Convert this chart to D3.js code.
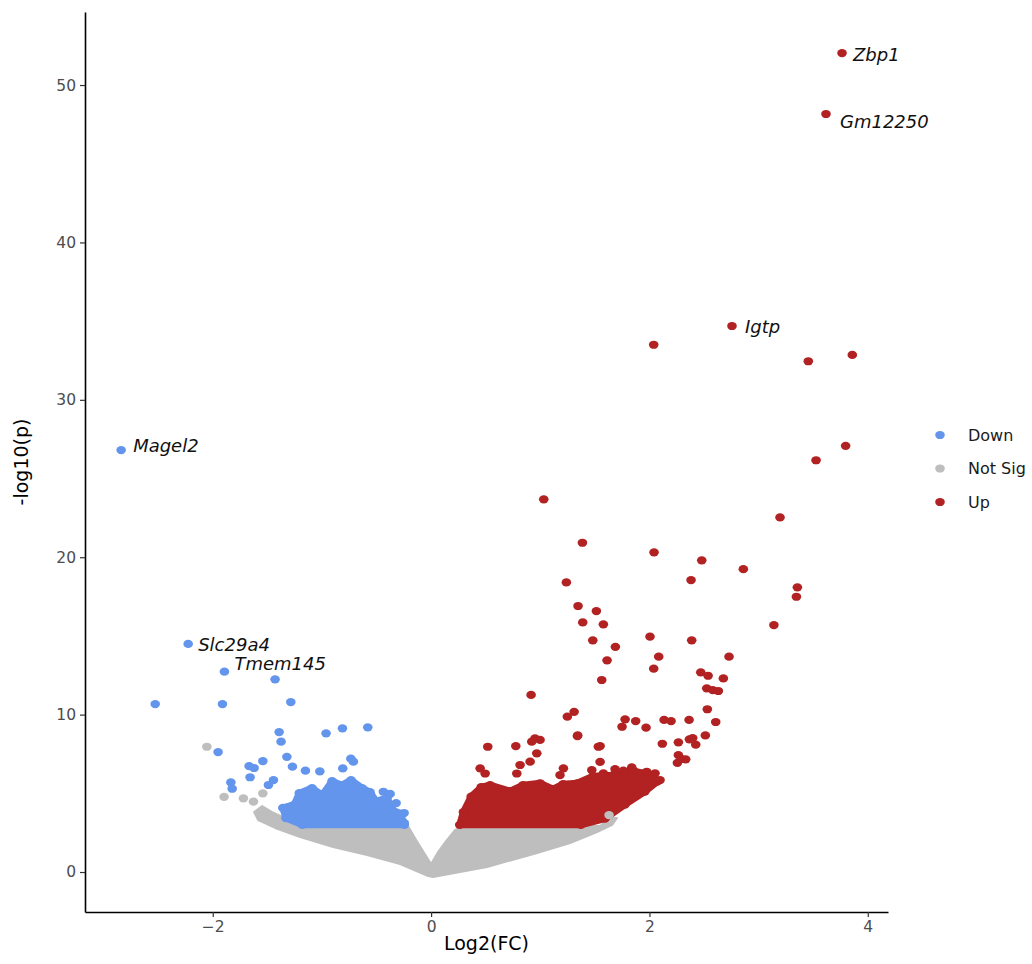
<!DOCTYPE html>
<html>
<head>
<meta charset="utf-8">
<style>
  body { margin: 0; background: #fff; }
  svg text { font-family: "DejaVu Sans", sans-serif; }
</style>
</head>
<body>
<svg id="chart" width="1032" height="964"></svg>
<script src="https://cdnjs.cloudflare.com/ajax/libs/d3/7.8.5/d3.min.js"></script>
<script>
// log2 fold change / -log10(p)
var upPoints = [
  [3.764,52.03],[3.617,48.16],[2.756,34.69],[2.039,33.50],[3.455,32.45],[3.858,32.85],
  [3.797,27.08],[3.526,26.16],[1.032,23.68],[3.196,22.53],[1.386,20.92],[2.042,20.31],
  [2.479,19.80],[2.860,19.24],[1.239,18.40],[2.381,18.55],[3.355,18.09],[3.346,17.49],
  [1.346,16.90],[1.514,16.58],[3.140,15.69],[1.389,15.86],[1.578,15.74],[1.481,14.72],
  [1.688,14.31],[2.005,14.95],[2.387,14.72],[2.729,13.68],[2.085,13.68],[1.612,13.45],
  [2.039,12.92],[2.470,12.69],[2.537,12.47],[2.677,12.30],[1.563,12.20],[2.525,11.67],
  [2.580,11.56],[2.631,11.50],[2.530,10.34],[2.607,9.53],[2.512,8.68],[2.363,9.66],
  [2.134,9.66],[2.198,9.59],[1.969,9.17],[1.874,9.59],[1.777,9.70],[1.749,9.23],
  [1.310,10.18],[1.248,9.87],[1.343,8.68],[1.548,8.00],[2.118,8.15],[2.265,8.24],
  [2.366,8.43],[2.396,8.51],[2.424,8.09],[2.265,7.43],[2.296,7.18],[2.256,6.94],
  [2.332,7.16],[1.548,7.00],[0.916,11.25],[0.519,7.96],[0.776,8.00],[0.952,8.49],
  [0.998,8.39],[0.922,8.28],[1.340,8.64],[0.968,7.54],[0.907,7.01],[0.815,6.80],
  [0.785,6.26],[0.449,6.59],[0.495,6.26],[1.212,6.59],[1.181,6.16],[1.472,6.48],
  [1.532,7.96],[1.502,5.80],[1.578,6.27],[1.685,6.54],[1.761,6.44],[1.838,6.65],
  [1.930,6.27],[1.975,6.37],[2.051,6.27],[2.097,5.84],[0.464,5.32],[0.430,4.57]
];
var downPoints = [
  [-2.839,26.81],[-2.225,14.49],[-1.893,12.73],[-1.429,12.24],[-2.527,10.67],[-1.911,10.67],
  [-1.285,10.80],[-1.392,8.89],[-1.374,8.28],[-0.962,8.81],[-0.812,9.13],[-0.580,9.19],
  [-1.951,7.62],[-1.321,7.32],[-1.541,7.05],[-1.667,6.73],[-1.621,6.61],[-1.270,6.69],
  [-1.151,6.44],[-1.019,6.39],[-0.735,7.20],[-0.712,7.01],[-0.809,6.58],[-1.658,6.02],
  [-1.834,5.69],[-1.822,5.29],[-1.444,5.84],[-1.490,5.53],[-0.437,5.10],[-0.375,4.96],
  [-0.320,4.38],[-0.247,3.75]
];
var notSigPoints = [
  [-2.054,7.96],[-1.896,4.78],[-1.719,4.68],[-1.627,4.47],[-1.541,5.00],[1.630,3.62]
];
// outlines of the dense, overlapping clouds of points (edge point centres)
var upCloud = [
  [0.262,3.00],[0.296,3.81],[0.367,4.79],[0.459,5.39],[0.540,5.52],[0.723,5.14],
  [0.842,5.52],[0.998,5.64],[1.117,5.26],[1.209,5.58],[1.337,5.64],[1.484,6.09],
  [1.667,6.15],[1.841,6.47],[2.005,6.09],[2.070,5.74],[1.958,5.11],[1.775,4.28],
  [1.592,3.39],[1.372,3.00]
];
var downCloud = [
  [-1.180,3.00],[-1.330,3.43],[-1.358,4.07],[-1.253,4.28],[-1.207,5.01],[-1.090,5.33],
  [-0.998,4.88],[-0.907,5.77],[-0.815,5.52],[-0.733,5.84],[-0.632,5.33],[-0.559,5.07],
  [-0.504,4.50],[-0.403,4.69],[-0.358,3.97],[-0.286,3.71],[-0.245,3.11],[-0.245,3.00]
];
var notSigCloud = [
  [-1.621,3.81],[-1.548,4.19],[-1.456,3.81],[-1.337,3.43],[-1.200,2.92],[-0.211,2.92],
  [-0.137,2.03],[-0.046,1.02],[0.000,0.51],[0.064,1.27],[0.137,1.97],[0.220,2.67],
  [0.293,2.92],[1.548,2.92],[1.639,3.43],[1.703,3.43],[1.658,2.99],[1.520,2.54],
  [1.273,1.84],[0.971,1.21],[0.513,0.32],[0.018,-0.32],[-0.027,-0.25],[-0.284,0.51],
  [-0.586,1.08],[-0.897,1.59],[-1.200,2.22],[-1.429,2.80],[-1.584,3.30]
];
var labelGenes = ["Zbp1", "Gm12250", "Igtp", "Magel2", "Slc29a4", "Tmem145"];
var labelX = [3.764, 3.617, 2.756, -2.839, -2.225, -1.893];
var labelY = [52.03, 48.16, 34.69, 26.81, 14.49, 12.73];
var groups = ["Down", "Not Sig", "Up"];
var groupColors = ["#6495ED", "#BEBEBE", "#B22222"];
var xTicks = [-2, 0, 2, 4];
var yTicks = [0, 10, 20, 30, 40, 50];

var svg = d3.select("#chart");
var margin = {left: 85, right: 888, top: 12, bottom: 912};

var x = d3.scaleLinear().domain([-3.17, 4.185]).range([margin.left, margin.right]);
var y = d3.scaleLinear().domain([-2.54, 54.64]).range([margin.bottom, margin.top]);
var color = d3.scaleOrdinal().domain(groups).range(groupColors);

var rx = 4.8, ry = 4.1;

function drawPoints(pts, grp) {
  svg.append("g").selectAll("ellipse")
    .data(pts)
    .enter()
    .append("ellipse")
    .attr("cx", function(d) { return x(d[0]); })
    .attr("cy", function(d) { return y(d[1]); })
    .attr("rx", rx).attr("ry", ry)
    .attr("fill", color(grp));
}

// dense clouds: filled outline + the edge points themselves
var cloudLine = d3.line().x(function(d) { return x(d[0]); }).y(function(d) { return y(d[1]); })
  .curve(d3.curveLinearClosed);
[[notSigCloud, "Not Sig", 2], [downCloud, "Down", 7], [upCloud, "Up", 7]].forEach(function(c) {
  svg.append("path")
    .attr("d", cloudLine(c[0]))
    .attr("fill", color(c[1]))
    .attr("stroke", color(c[1]))
    .attr("stroke-width", c[2])
    .attr("stroke-linejoin", "round");
  if (c[1] != "Not Sig") drawPoints(c[0], c[1]);
});

drawPoints(notSigPoints, "Not Sig");
drawPoints(downPoints, "Down");
drawPoints(upPoints, "Up");

// gene labels
var nudge = [[11, 1], [14, 8], [13, 1], [12, -5], [10, 1], [10, -8]];
svg.append("g").selectAll("text")
  .data(labelGenes)
  .enter()
  .append("text")
  .attr("x", function(d, i) { return x(labelX[i]) + nudge[i][0]; })
  .attr("y", function(d, i) { return y(labelY[i]) + nudge[i][1]; })
  .attr("dy", "0.36em")
  .attr("font-size", "18px")
  .attr("font-style", "italic")
  .attr("fill", "#111")
  .text(function(d) { return d; });

// axes
var xAxis = d3.axisBottom(x).tickValues(xTicks).tickSize(5).tickSizeOuter(0).tickPadding(4);
var yAxis = d3.axisLeft(y).tickValues(yTicks).tickSize(5).tickSizeOuter(0).tickPadding(4);

var gx = svg.append("g").attr("transform", "translate(0," + margin.bottom + ")").call(xAxis);
var gy = svg.append("g").attr("transform", "translate(" + margin.left + ",0)").call(yAxis);
[gx, gy].forEach(function(g) {
  g.select(".domain").attr("stroke", "#000").attr("stroke-width", 1.6);
  g.selectAll(".tick line").attr("stroke", "#333").attr("stroke-width", 1.2);
  g.selectAll(".tick text").attr("fill", "#4d4d4d").attr("font-size", "15.5px")
    .attr("font-family", "DejaVu Sans, sans-serif");
});

svg.append("text")
  .attr("x", (margin.left + margin.right) / 2)
  .attr("y", 950)
  .attr("text-anchor", "middle")
  .attr("font-family", "Liberation Sans, Arial, sans-serif")
  .attr("font-size", "19px")
  .attr("fill", "#000")
  .text("Log2(FC)");

svg.append("text")
  .attr("transform", "translate(28," + ((margin.top + margin.bottom) / 2) + ") rotate(-90)")
  .attr("text-anchor", "middle")
  .attr("font-family", "Liberation Sans, Arial, sans-serif")
  .attr("font-size", "19px")
  .attr("fill", "#000")
  .text("-log10(p)");

// legend
var legend = svg.append("g").selectAll("g")
  .data(groups)
  .enter()
  .append("g")
  .attr("transform", function(d, i) { return "translate(940," + (435 + i * 33.5) + ")"; });
legend.append("ellipse").attr("rx", rx).attr("ry", ry).attr("fill", function(d) { return color(d); });
legend.append("text")
  .attr("x", 28)
  .attr("dy", "0.36em")
  .attr("font-size", "16px")
  .attr("fill", "#1a1a1a")
  .text(function(d) { return d; });
</script>
</body>
</html>
